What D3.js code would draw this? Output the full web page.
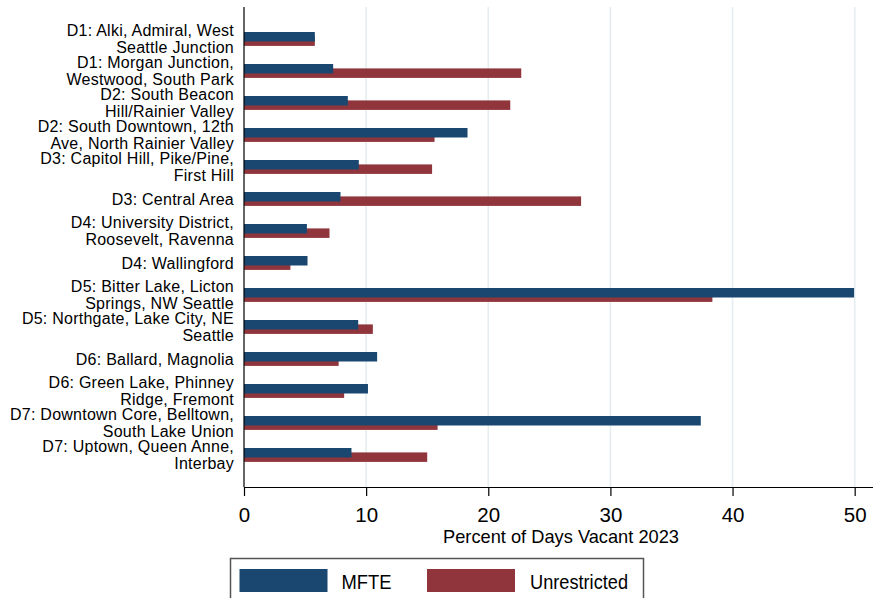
<!DOCTYPE html>
<html>
<head>
<meta charset="utf-8">
<script src="https://cdn.jsdelivr.net/npm/d3@7/dist/d3.min.js"></script>
<style>
  html, body { margin: 0; padding: 0; background: #fff; }
  svg { display: block; }
  text { font-family: "Liberation Sans", Arial, sans-serif; fill: #000; }
</style>
</head>
<body>
<svg id="chart" width="873" height="598"></svg>
<script>
// Neighborhood groupings (line breaks mark where the label wraps)
const categories = [
  "D1: Alki, Admiral, West\nSeattle Junction",
  "D1: Morgan Junction,\nWestwood, South Park",
  "D2: South Beacon\nHill/Rainier Valley",
  "D2: South Downtown, 12th\nAve, North Rainier Valley",
  "D3: Capitol Hill, Pike/Pine,\nFirst Hill",
  "D3: Central Area",
  "D4: University District,\nRoosevelt, Ravenna",
  "D4: Wallingford",
  "D5: Bitter Lake, Licton\nSprings, NW Seattle",
  "D5: Northgate, Lake City, NE\nSeattle",
  "D6: Ballard, Magnolia",
  "D6: Green Lake, Phinney\nRidge, Fremont",
  "D7: Downtown Core, Belltown,\nSouth Lake Union",
  "D7: Uptown, Queen Anne,\nInterbay"
];

const seriesNames = ["MFTE", "Unrestricted"];

// Percent of days vacant, 2023
const mfteValues = [5.8, 7.3, 8.5, 18.3, 9.4, 7.9, 5.15, 5.2, 49.95, 9.35, 10.9, 10.15, 37.4, 8.8];
const unrestrictedValues = [5.8, 22.7, 21.8, 15.6, 15.4, 27.6, 7.0, 3.8, 38.35, 10.55, 7.75, 8.2, 15.85, 15.0];

const xTicks = [0, 10, 20, 30, 40, 50];
const xMax = 51.5;
const xTitle = "Percent of Days Vacant 2023";

const colors = { "MFTE": "#1a476f", "Unrestricted": "#90353b" };

const svg = d3.select("#chart");
const plot = { left: 244, right: 873, top: 7, bottom: 487 };

const x = d3.scaleLinear().domain([0, xMax]).range([plot.left, plot.right]);
const y = d3.scaleBand().domain(d3.range(categories.length))
  .range([plot.top, plot.bottom]).paddingInner(0).paddingOuter(0.5);

// the two bars of a group overlap; MFTE sits above and is drawn last
const barH = 9.5;
const sub = d3.scalePoint().domain(seriesNames).range([9, 13.4]);

// vertical grid lines
svg.append("g").selectAll("line")
  .data(xTicks.filter(t => t > 0))
  .join("line")
  .attr("x1", d => x(d)).attr("x2", d => x(d))
  .attr("y1", plot.top).attr("y2", plot.bottom)
  .attr("stroke", "#e4edf0").attr("stroke-width", 1.6);

const rows = categories.map((c, i) => ({
  i, MFTE: mfteValues[i], Unrestricted: unrestrictedValues[i]
}));

// bars: Unrestricted first, MFTE on top
["Unrestricted", "MFTE"].forEach(s => {
  svg.append("g").selectAll("rect")
    .data(rows)
    .join("rect")
    .attr("x", x(0))
    .attr("y", d => y(d.i) + sub(s))
    .attr("width", d => x(d[s]) - x(0))
    .attr("height", barH)
    .attr("fill", colors[s]);
});

// category labels
svg.append("g").selectAll("text")
  .data(categories)
  .join("text")
  .attr("text-anchor", "end")
  .attr("font-size", 16)
  .attr("letter-spacing", 0.25)
  .attr("x", 234)
  .each(function (d, i) {
    const lines = d.split("\n");
    const cy = y(i) + y.bandwidth() / 2;
    const lh = 16.3;
    const first = cy - (lines.length - 1) * lh / 2;
    const t = d3.select(this);
    lines.forEach((ln, k) => {
      t.append("tspan").attr("x", 234)
        .attr("y", first + k * lh)
        .attr("dy", "0.35em")
        .text(ln);
    });
  });

// y axis line
svg.append("line")
  .attr("x1", plot.left).attr("x2", plot.left)
  .attr("y1", plot.top).attr("y2", plot.bottom)
  .attr("stroke", "#000").attr("stroke-width", 1.2);

// x axis
const xAxis = svg.append("g")
  .attr("transform", `translate(0,${plot.bottom})`)
  .call(d3.axisBottom(x).tickValues(xTicks).tickSize(9).tickSizeOuter(0).tickPadding(4));
xAxis.select(".domain").attr("stroke", "#000").attr("stroke-width", 1.2);
xAxis.selectAll(".tick line").attr("stroke", "#000").attr("stroke-width", 1.2);
xAxis.selectAll(".tick text")
  .attr("font-family", "'Liberation Sans', Arial, sans-serif")
  .attr("font-size", 20.5).attr("fill", "#000")
  .attr("dy", null).attr("y", 34.5);

svg.append("text")
  .attr("x", 561).attr("y", 542.5)
  .attr("text-anchor", "middle")
  .attr("font-size", 19)
  .attr("font-family", "'Liberation Sans Narrow', 'Arial Narrow', 'Liberation Sans', sans-serif")
  .attr("textLength", 236).attr("lengthAdjust", "spacingAndGlyphs")
  .text(xTitle);

// legend
const legend = svg.append("g");
legend.append("rect")
  .attr("x", 230.5).attr("y", 558.5)
  .attr("width", 413).attr("height", 45)
  .attr("fill", "#fff").attr("stroke", "#555").attr("stroke-width", 1.5);

const legendItems = [
  { name: "MFTE", sx: 239.5, tx: 341.5, tw: 50 },
  { name: "Unrestricted", sx: 427, tx: 530, tw: 98 }
];
legendItems.forEach(it => {
  legend.append("rect")
    .attr("x", it.sx).attr("y", 569)
    .attr("width", 88).attr("height", 23)
    .attr("fill", colors[it.name]);
  legend.append("text")
    .attr("x", it.tx).attr("y", 589)
    .attr("font-size", 21)
    .attr("font-family", "'Liberation Sans Narrow', 'Arial Narrow', 'Liberation Sans', sans-serif")
    .attr("textLength", it.tw).attr("lengthAdjust", "spacingAndGlyphs")
    .text(it.name);
});
</script>
</body>
</html>
